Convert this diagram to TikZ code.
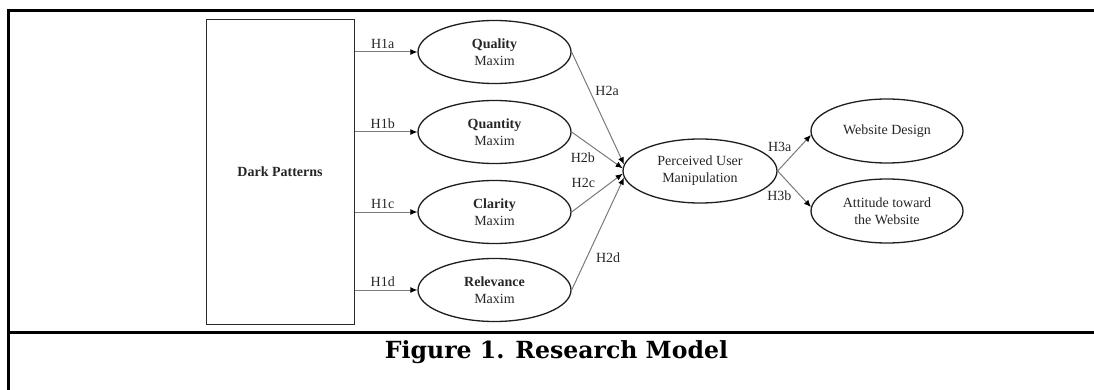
\documentclass[tikz,border=0pt]{standalone}
\usepackage{fontspec}
\setmainfont{Liberation Serif}
\newfontfamily\capfont{DejaVu Serif}
\usetikzlibrary{arrows.meta,shapes.geometric}
\definecolor{textc}{HTML}{262626}
\definecolor{ellc}{HTML}{1E1E1E}
\definecolor{connc}{HTML}{7A7A7A}
\definecolor{boxc}{HTML}{2A2A2A}
\begin{document}
\begin{tikzpicture}[x=1pt,y=-1pt,
  every node/.style={font=\fontsize{14}{17}\selectfont, text=textc},
  lv/.style={ellipse, draw=ellc, line width=1.3pt, minimum width=153pt, minimum height=63pt, inner sep=0pt, align=center},
  conn/.style={draw=connc, line width=1pt, -{Latex[length=7pt,width=6pt,color=black]}},
  lbl/.style={inner sep=0pt},
  frame/.style={line width=3pt, draw=black}
]
\useasboundingbox (0,0) rectangle (1094,390);
% frame
\draw[frame] (1094,10.5) -- (8,10.5) -- (8,390);
\draw[frame] (8,332) -- (1094,332);

% nodes
\node[draw=boxc, line width=1pt, minimum width=148pt, minimum height=304pt, inner sep=0pt, font=\fontsize{14}{17}\selectfont\bfseries] (dp) at (280,172) {Dark Patterns};
\node[lv] (q)   at (494.5,52)  {\textbf{Quality}\\Maxim};
\node[lv] (qt)  at (494.5,132) {\textbf{Quantity}\\Maxim};
\node[lv] (cl)  at (494.5,212) {\textbf{Clarity}\\Maxim};
\node[lv] (rel) at (494.5,290) {\textbf{Relevance}\\Maxim};
\node[lv, minimum width=154pt, minimum height=64pt] (pum) at (700,171) {Perceived User\\Manipulation};
\node[lv, minimum width=152pt, minimum height=64pt] (wd) at (887,131) {Website Design};
\node[lv, minimum width=152pt, minimum height=64pt] (att) at (887,211) {Attitude toward\\the Website};

% H1
\draw[conn] (dp.east |- q) -- node[lbl, pos=0.45, above=3pt] {H1a} (q.west);
\draw[conn] (dp.east |- qt) -- node[lbl, pos=0.45, above=3pt] {H1b} (qt.west);
\draw[conn] (dp.east |- cl) -- node[lbl, pos=0.45, above=3pt] {H1c} (cl.west);
\draw[conn] (dp.east |- rel) -- node[lbl, pos=0.45, above=3pt] {H1d} (rel.west);

% H2
\draw[conn] (q.east) -- node[lbl, pos=0.35, right=5pt] {H2a} (pum.175);
\draw[conn] (qt.east) -- node[lbl, pos=0.22, below=12pt] {H2b} (pum.178);
\draw[conn] (cl.east) -- node[lbl, pos=0.23, above=15pt] {H2c} (pum.182);
\draw[conn] (rel.east) -- node[lbl, pos=0.285, right=9pt] {H2d} (pum.185);

% H3
\draw[conn] (pum.east) -- node[lbl, pos=0.67, left=8pt] {H3a} (wd.183);
\draw[conn] (pum.east) -- node[lbl, pos=0.7, left=9pt] {H3b} (att.177);

% caption
\node[anchor=base, text=black] (cap) at (556.5,358) {\resizebox{343pt}{!}{\capfont\bfseries Figure 1. Research Model}};
\end{tikzpicture}
\end{document}
